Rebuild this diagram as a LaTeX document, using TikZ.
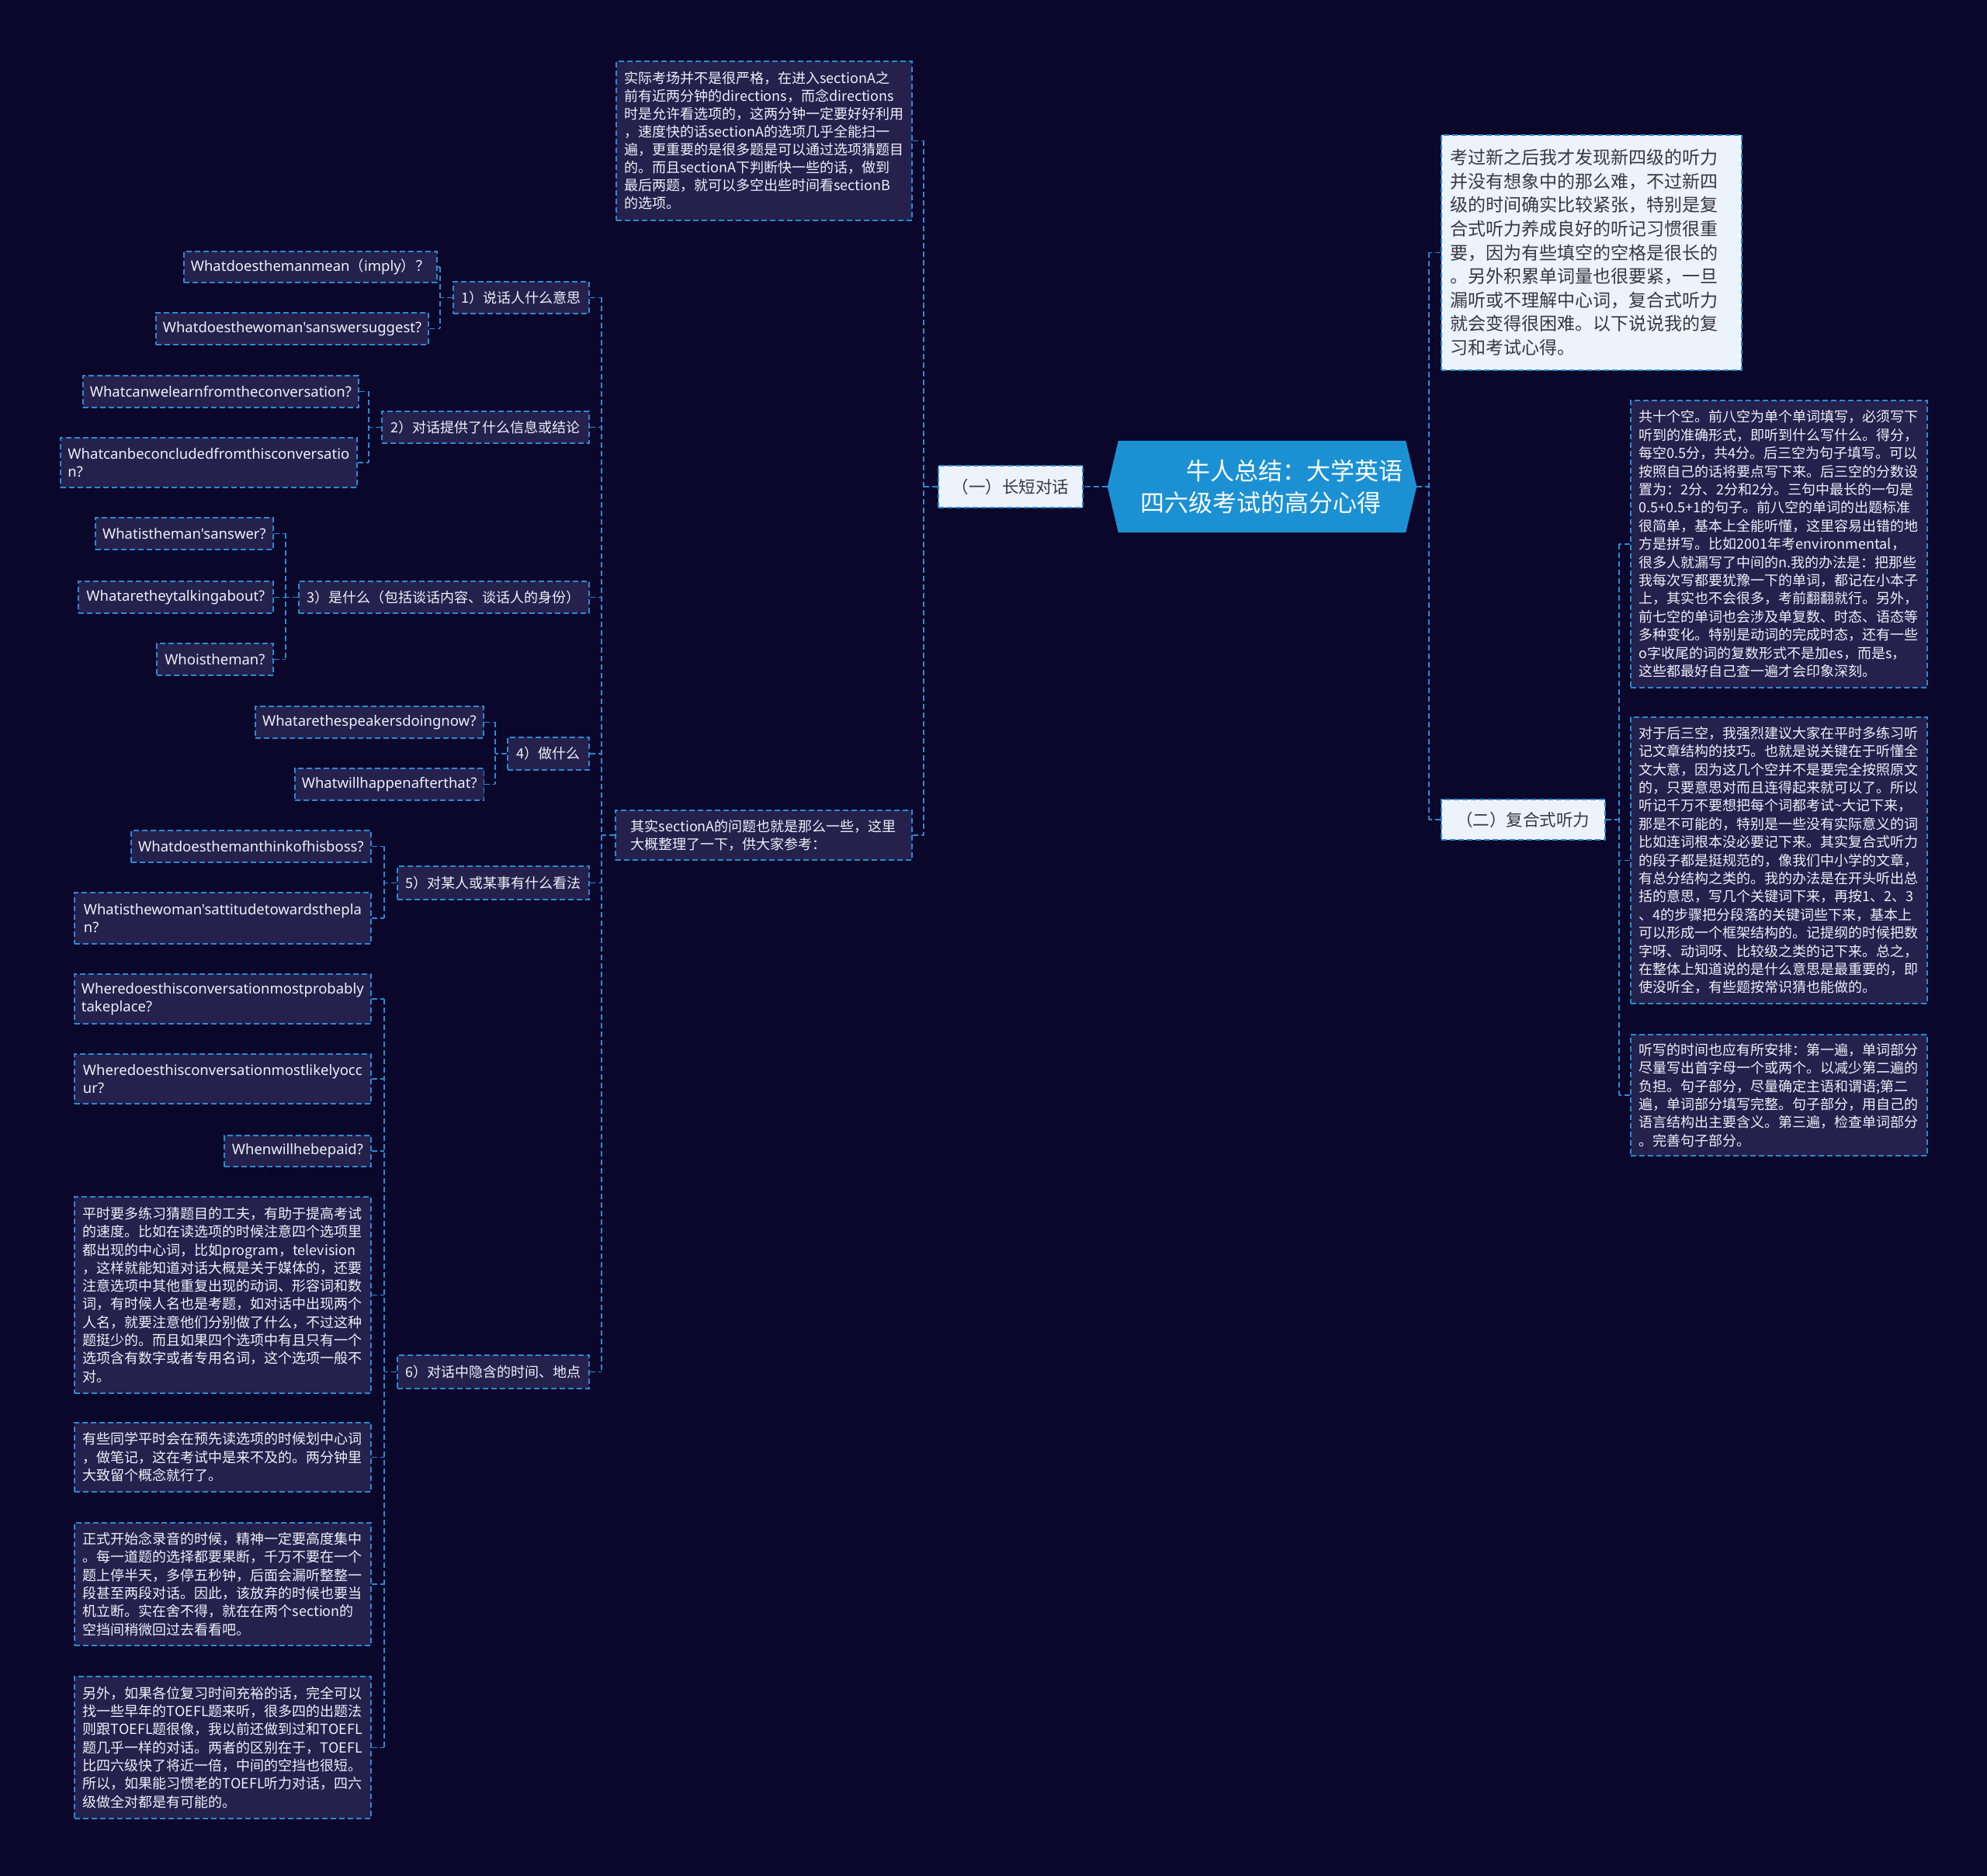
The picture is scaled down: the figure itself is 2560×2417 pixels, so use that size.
\documentclass[tikz,border=0pt]{standalone}
\usepackage{fontspec}
\newfontfamily\cjkf{Noto Sans CJK SC}[Ligatures=TeXOff]
\newfontfamily\lfont{Noto Sans}[Ligatures=TeXOff]
\usetikzlibrary{backgrounds}
\definecolor{bgc}{RGB}{10,7,42}
\definecolor{nodefill}{RGB}{37,33,76}
\definecolor{lineblue}{RGB}{41,138,214}
\definecolor{rootblue}{RGB}{27,145,212}
\definecolor{lightfill}{RGB}{237,243,252}
\definecolor{txtlight}{RGB}{240,240,250}
\definecolor{txtdark}{RGB}{55,55,65}
\tikzset{
  dsh/.style={line width=1.7pt, dash pattern=on 7pt off 4pt},
  box/.style={anchor=north west, rectangle, dsh, draw=lineblue, inner xsep=9pt, inner ysep=0pt, align=left},
  dk/.style={box, fill=nodefill, text=txtlight, font=\cjkf\fontsize{18pt}{23.3pt}\selectfont},
  lf/.style={box, fill=nodefill, text=txtlight, font=\lfont\fontsize{18.5pt}{23pt}\selectfont},
  lt/.style={box, fill=lightfill, text=txtdark, align=center, font=\cjkf\fontsize{21.5pt}{26pt}\selectfont},
  conn/.style={draw=lineblue, dsh}
}
\begin{document}
\begin{tikzpicture}[x=1pt,y=-1pt]
\useasboundingbox (0,0) rectangle (2560,2417);
\begin{pgfonlayer}{background}
\fill[bgc] (0,0) rectangle (2560,2417);
\end{pgfonlayer}

% trunk coordinates
\coordinate (tR0) at (1841,0);
\coordinate (tR1) at (2086,0);
\coordinate (tL0) at (1190,0);
\coordinate (tL1) at (775,0);
\coordinate (t1) at (567,0);
\coordinate (t2) at (475,0);
\coordinate (t3) at (368,0);
\coordinate (t4) at (638,0);
\coordinate (t5) at (495,0);
\coordinate (t6) at (495,0);

% root
\node[text=white, font=\cjkf\fontsize{31pt}{41pt}\selectfont, align=left, minimum width=398pt, minimum height=118pt, inner sep=0pt] (root) at (1626,627)
  {\hspace*{83pt}牛人总结：大学英语\\\hspace*{24pt}四六级考试的高分心得};
\begin{pgfonlayer}{background}
\fill[rootblue] ([xshift=14pt]root.north west) -- ([xshift=-14pt]root.north east) -- (root.east)
  -- ([xshift=-14pt]root.south east) -- ([xshift=14pt]root.south west) -- (root.west) -- cycle;
\end{pgfonlayer}

% first level
\node[lt, minimum width=186pt, minimum height=54pt] (one) at (1208,599) {（一）长短对话};
\node[lt, minimum width=211pt, minimum height=52pt] (two) at (1856,1029) {（二）复合式听力};

% right side
\node[lt, align=left, inner xsep=12pt, text width=363pt, minimum height=303pt, font=\cjkf\fontsize{23pt}{30.6pt}\selectfont] (tr) at (1856,173)
{考过新之后我才发现新四级的听力\\
并没有想象中的那么难，不过新四\\
级的时间确实比较紧张，特别是复\\
合式听力养成良好的听记习惯很重\\
要，因为有些填空的空格是很长的\\
。另外积累单词量也很要紧，一旦\\
漏听或不理解中心词，复合式听力\\
就会变得很困难。以下说说我的复\\
习和考试心得。};

\node[dk, minimum width=382pt, minimum height=370pt, font=\cjkf\fontsize{18pt}{23.4pt}\selectfont] (r1) at (2100,515)
{共十个空。前八空为单个单词填写，必须写下\\
听到的准确形式，即听到什么写什么。得分，\\
每空0.5分，共4分。后三空为句子填写。可以\\
按照自己的话将要点写下来。后三空的分数设\\
置为：2分、2分和2分。三句中最长的一句是\\
0.5+0.5+1的句子。前八空的单词的出题标准\\
很简单，基本上全能听懂，这里容易出错的地\\
方是拼写。比如2001年考environmental，\\
很多人就漏写了中间的n.我的办法是：把那些\\
我每次写都要犹豫一下的单词，都记在小本子\\
上，其实也不会很多，考前翻翻就行。另外，\\
前七空的单词也会涉及单复数、时态、语态等\\
多种变化。特别是动词的完成时态，还有一些\\
o字收尾的词的复数形式不是加es，而是s，\\
这些都最好自己查一遍才会印象深刻。};

\node[dk, minimum width=382pt, minimum height=369pt, font=\cjkf\fontsize{18pt}{23.4pt}\selectfont] (r2) at (2100,923)
{对于后三空，我强烈建议大家在平时多练习听\\
记文章结构的技巧。也就是说关键在于听懂全\\
文大意，因为这几个空并不是要完全按照原文\\
的，只要意思对而且连得起来就可以了。所以\\
听记千万不要想把每个词都考试\textasciitilde 大记下来，\\
那是不可能的，特别是一些没有实际意义的词\\
比如连词根本没必要记下来。其实复合式听力\\
的段子都是挺规范的，像我们中小学的文章，\\
有总分结构之类的。我的办法是在开头听出总\\
括的意思，写几个关键词下来，再按1、2、3\\
、4的步骤把分段落的关键词些下来，基本上\\
可以形成一个框架结构的。记提纲的时候把数\\
字呀、动词呀、比较级之类的记下来。总之，\\
在整体上知道说的是什么意思是最重要的，即\\
使没听全，有些题按常识猜也能做的。};

\node[dk, minimum width=382pt, minimum height=156pt, font=\cjkf\fontsize{18pt}{23.4pt}\selectfont] (r3) at (2100,1332)
{听写的时间也应有所安排：第一遍，单词部分\\
尽量写出首字母一个或两个。以减少第二遍的\\
负担。句子部分，尽量确定主语和谓语;第二\\
遍，单词部分填写完整。句子部分，用自己的\\
语言结构出主要含义。第三遍，检查单词部分\\
。完善句子部分。};

% left: level 2
\node[dk, minimum width=381pt, minimum height=205pt, font=\cjkf\fontsize{18pt}{23pt}\selectfont] (tm) at (793,78)
{实际考场并不是很严格，在进入sectionA之\\
前有近两分钟的directions，而念directions\\
时是允许看选项的，这两分钟一定要好好利用\\
，速度快的话sectionA的选项几乎全能扫一\\
遍，更重要的是很多题是可以通过选项猜题目\\
的。而且sectionA下判断快一些的话，做到\\
最后两题，就可以多空出些时间看sectionB\\
的选项。};

\node[dk, minimum width=382pt, minimum height=64pt, font=\cjkf\fontsize{18pt}{23pt}\selectfont] (mid) at (792,1043)
{其实sectionA的问题也就是那么一些，这里\\
大概整理了一下，供大家参考：};

% categories
\node[dk, minimum width=175pt, minimum height=41pt] (c1) at (583,362) {1）说话人什么意思};
\node[dk, minimum width=267pt, minimum height=41pt] (c2) at (491,529) {2）对话提供了什么信息或结论};
\node[dk, minimum width=374pt, minimum height=41pt] (c3) at (384,748) {3）是什么（包括谈话内容、谈话人的身份）};
\node[dk, minimum width=105pt, minimum height=42pt] (c4) at (653,949) {4）做什么};
\node[dk, minimum width=247pt, minimum height=43pt] (c5) at (511,1115) {5）对某人或某事有什么看法};
\node[dk, minimum width=247pt, minimum height=43pt] (c6) at (511,1745) {6）对话中隐含的时间、地点};

% leaves
\node[lf, minimum width=314pt, minimum height=40pt] (a1) at (236,323) {Whatdoesthemanmean{\cjkf （}imply{\cjkf ）？}};
\node[lf, minimum width=350pt, minimum height=41pt] (a2) at (200,402) {Whatdoesthewoman'sanswersuggest?};
\node[lf, minimum width=353pt, minimum height=41pt] (b1) at (106,483) {Whatcanwelearnfromtheconversation?};
\node[lf, minimum width=382pt, minimum height=64pt] (b2) at (77,563) {Whatcanbeconcludedfromthisconversatio\\n?};
\node[lf, minimum width=229pt, minimum height=41pt] (d1) at (122,666) {Whatistheman'sanswer?};
\node[lf, minimum width=251pt, minimum height=41pt] (d2) at (100,748) {Whataretheytalkingabout?};
\node[lf, minimum width=150pt, minimum height=41pt] (d3) at (201,828) {Whoistheman?};
\node[lf, minimum width=294pt, minimum height=41pt] (e1) at (328,909) {Whatarethespeakersdoingnow?};
\node[lf, minimum width=243pt, minimum height=41pt] (e2) at (379,989) {Whatwillhappenafterthat?};
\node[lf, minimum width=309pt, minimum height=41pt] (f1) at (168,1069) {Whatdoesthemanthinkofhisboss?};
\node[lf, minimum width=382pt, minimum height=66pt] (f2) at (95,1149) {Whatisthewoman'sattitudetowardsthepla\\n?};
\node[lf, minimum width=382pt, minimum height=64pt] (g1) at (95,1254) {Wheredoesthisconversationmostprobably\\takeplace?};
\node[lf, minimum width=382pt, minimum height=64pt] (g2) at (95,1357) {Wheredoesthisconversationmostlikelyocc\\ur?};
\node[lf, minimum width=189pt, minimum height=40pt] (g3) at (288,1462) {Whenwillhebepaid?};
\node[dk, minimum width=382pt, minimum height=253pt] (g4) at (95,1541)
{平时要多练习猜题目的工夫，有助于提高考试\\
的速度。比如在读选项的时候注意四个选项里\\
都出现的中心词，比如program，television\\
，这样就能知道对话大概是关于媒体的，还要\\
注意选项中其他重复出现的动词、形容词和数\\
词，有时候人名也是考题，如对话中出现两个\\
人名，就要注意他们分别做了什么，不过这种\\
题挺少的。而且如果四个选项中有且只有一个\\
选项含有数字或者专用名词，这个选项一般不\\
对。};
\node[dk, minimum width=382pt, minimum height=89pt] (g5) at (95,1832)
{有些同学平时会在预先读选项的时候划中心词\\
，做笔记，这在考试中是来不及的。两分钟里\\
大致留个概念就行了。};
\node[dk, minimum width=382pt, minimum height=158pt] (g6) at (95,1961)
{正式开始念录音的时候，精神一定要高度集中\\
。每一道题的选择都要果断，千万不要在一个\\
题上停半天，多停五秒钟，后面会漏听整整一\\
段甚至两段对话。因此，该放弃的时候也要当\\
机立断。实在舍不得，就在在两个section的\\
空挡间稍微回过去看看吧。};
\node[dk, minimum width=382pt, minimum height=183pt] (g7) at (95,2159)
{另外，如果各位复习时间充裕的话，完全可以\\
找一些早年的TOEFL题来听，很多四的出题法\\
则跟TOEFL题很像，我以前还做到过和TOEFL\\
题几乎一样的对话。两者的区别在于，TOEFL\\
比四六级快了将近一倍，中间的空挡也很短。\\
所以，如果能习惯老的TOEFL听力对话，四六\\
级做全对都是有可能的。};

% connectors: root right
\draw[conn] (root.east) -- (root.east -| tR0);
\draw[conn] (tr.west -| tR0) -- (two.west -| tR0);
\draw[conn] (tr.west) -- (tr.west -| tR0);
\draw[conn] (two.west) -- (two.west -| tR0);
\draw[conn] (two.east) -- (two.east -| tR1);
\draw[conn] (r1.west -| tR1) -- (r3.west -| tR1);
\draw[conn] (r1.west) -- (r1.west -| tR1);
\draw[conn] (r2.west) -- (r2.west -| tR1);
\draw[conn] (r3.west) -- (r3.west -| tR1);
% root left
\draw[conn] (root.west) -- (one.east);
\draw[conn] (one.west) -- (one.west -| tL0);
\draw[conn] (tm.east -| tL0) -- (mid.east -| tL0);
\draw[conn] (tm.east) -- (tm.east -| tL0);
\draw[conn] (mid.east) -- (mid.east -| tL0);
\draw[conn] (mid.west) -- (mid.west -| tL1);
\draw[conn] (c1.east -| tL1) -- (c6.east -| tL1);
\foreach \c in {c1,c2,c3,c4,c5,c6} \draw[conn] (\c.east) -- (\c.east -| tL1);
% categories to leaves
\draw[conn] (c1.west) -- (c1.west -| t1);
\draw[conn] (a1.east -| t1) -- (a2.east -| t1);
\foreach \c in {a1,a2} \draw[conn] (\c.east) -- (\c.east -| t1);
\draw[conn] (c2.west) -- (c2.west -| t2);
\draw[conn] (b1.east -| t2) -- (b2.east -| t2);
\foreach \c in {b1,b2} \draw[conn] (\c.east) -- (\c.east -| t2);
\draw[conn] (c3.west) -- (c3.west -| t3);
\draw[conn] (d1.east -| t3) -- (d3.east -| t3);
\foreach \c in {d1,d2,d3} \draw[conn] (\c.east) -- (\c.east -| t3);
\draw[conn] (c4.west) -- (c4.west -| t4);
\draw[conn] (e1.east -| t4) -- (e2.east -| t4);
\foreach \c in {e1,e2} \draw[conn] (\c.east) -- (\c.east -| t4);
\draw[conn] (c5.west) -- (c5.west -| t5);
\draw[conn] (f1.east -| t5) -- (f2.east -| t5);
\foreach \c in {f1,f2} \draw[conn] (\c.east) -- (\c.east -| t5);
\draw[conn] (c6.west) -- (c6.west -| t6);
\draw[conn] (g1.east -| t6) -- (g7.east -| t6);
\foreach \c in {g1,g2,g3,g4,g5,g6,g7} \draw[conn] (\c.east) -- (\c.east -| t6);
\end{tikzpicture}
\end{document}
